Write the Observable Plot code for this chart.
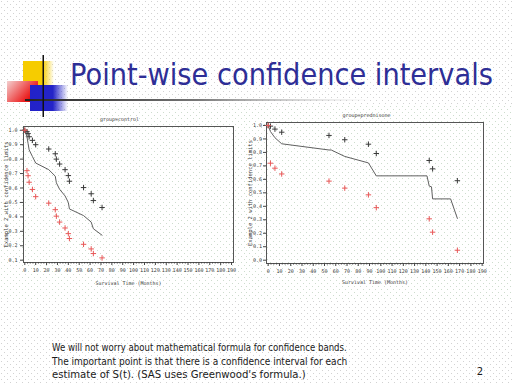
<!DOCTYPE html>
<html><head><meta charset="utf-8">
<script src="https://cdn.jsdelivr.net/npm/d3@7"></script>
<script src="https://cdn.jsdelivr.net/npm/@observablehq/plot@0.6"></script>
<style>
html,body{margin:0;padding:0;}
body{width:512px;height:384px;position:relative;overflow:hidden;background-color:#fff;
background-image:url("data:image/svg+xml,%3Csvg xmlns='http://www.w3.org/2000/svg' width='6' height='6'%3E%3Crect x='1' y='1' width='1' height='1' fill='%23d2d2d2'/%3E%3Crect x='4' y='4' width='1' height='1' fill='%23d2d2d2'/%3E%3C/svg%3E");}
.chart{position:absolute;background-color:#fff;
background-image:url("data:image/svg+xml,%3Csvg xmlns='http://www.w3.org/2000/svg' width='6' height='6'%3E%3Crect x='1' y='1' width='1' height='1' fill='%23cddccd'/%3E%3Crect x='4' y='4' width='1' height='1' fill='%23cddccd'/%3E%3C/svg%3E");}
.chart svg{display:block;}
#overlay{position:absolute;left:0;top:0;}
</style></head><body>
<div id="left" class="chart" style="left:0;top:105px;width:245px;height:195px"></div>
<div id="right" class="chart" style="left:245px;top:105px;width:267px;height:195px"></div>
<svg id="overlay" width="512" height="384">
  <defs>
    <linearGradient id="gY" x1="0" x2="1"><stop offset="0" stop-color="#f6cc00"/><stop offset="0.62" stop-color="#f6cc00"/><stop offset="1" stop-color="#f6cc00" stop-opacity="0"/></linearGradient>
    <linearGradient id="gR" x1="0" y1="0" x2="1" y2="0.6"><stop offset="0" stop-color="#f4d0d0"/><stop offset="0.75" stop-color="#ec3030"/><stop offset="1" stop-color="#e00000"/></linearGradient>
    <linearGradient id="gB" x1="0" x2="1"><stop offset="0" stop-color="#2222c8"/><stop offset="0.6" stop-color="#2424c8"/><stop offset="1" stop-color="#2424c8" stop-opacity="0"/></linearGradient>
    <linearGradient id="gL" x1="0" x2="1"><stop offset="0" stop-color="#222"/><stop offset="0.5" stop-color="#777"/><stop offset="1" stop-color="#bbb" stop-opacity="0"/></linearGradient>
  </defs>
  <rect x="23" y="61" width="31" height="30" fill="url(#gY)"/>
  <rect x="7" y="81" width="31" height="21" fill="url(#gR)"/>
  <rect x="30" y="85" width="38" height="26" fill="url(#gB)"/>
  <rect x="25" y="99" width="345" height="2" fill="url(#gL)"/>
  <rect x="42.5" y="55" width="1.5" height="62" fill="#111"/>
  <text class="fit" data-x="70" data-y="85" data-w="423" font-family="DejaVu Sans" font-size="30" fill="#2e2e96">Point-wise confidence intervals</text>
  <g font-family="DejaVu Sans" font-size="10.5" fill="#1a1a1a">
    <text class="fit" data-x="52" data-y="350.5" data-w="295">We will not worry about mathematical formula for confidence bands.</text>
    <text class="fit" data-x="52" data-y="364.5" data-w="296">The important point is that there is a confidence interval for each</text>
    <text class="fit" data-x="52" data-y="378" data-w="254">estimate of S(t). (SAS uses Greenwood's formula.)</text>
    <text x="480" y="375" text-anchor="middle" font-size="10">2</text>
  </g>
</svg>
<script>
// ---- data ----
const xTicks = [0,10,20,30,40,50,60,70,80,90,100,110,120,130,140,150,160,170,180,190];
const xLabel = "Survival Time (Months)";
const yLabel = "Example 2 with confidence limits";

// control group
const controlTitle = "group=control";
const controlTime  = [0, 2, 3, 4, 7, 10, 22, 28, 29, 32, 37, 40, 41, 54, 61, 63, 71];
const controlSurv  = [1.0, 0.955, 0.909, 0.864, 0.818, 0.773, 0.727, 0.682, 0.636, 0.591, 0.545, 0.500, 0.455, 0.409, 0.364, 0.318, 0.273];
const controlUpper = [1.0, 0.99, 0.977, 0.955, 0.93, 0.90, 0.87, 0.837, 0.80, 0.766, 0.727, 0.686, 0.647, 0.603, 0.56, 0.513, 0.465];
const controlLower = [1.0, 0.72, 0.685, 0.64, 0.59, 0.54, 0.495, 0.45, 0.405, 0.364, 0.323, 0.284, 0.25, 0.21, 0.178, 0.146, 0.116];
const controlYTicks = [0.1,0.2,0.3,0.4,0.5,0.6,0.7,0.8,0.9,1.0];

// prednisone group
const predTitle = "group=prednisone";
const predTime  = [0, 2, 6, 12, 54, 68, 89, 96, 143, 146, 168];
const predUpper = [1.0, 0.995, 0.973, 0.95, 0.926, 0.894, 0.861, 0.792, 0.74, 0.678, 0.59];
const predLower = [1.0, 0.72, 0.683, 0.64, 0.587, 0.535, 0.485, 0.39, 0.307, 0.208, 0.074];
const predLineTime = [0, 2, 6, 12, 54, 56, 68, 89, 96, 141, 143, 145, 146, 162, 168];
const predLineSurv = [1.0, 0.955, 0.909, 0.864, 0.818, 0.818, 0.770, 0.722, 0.626, 0.626, 0.55, 0.545, 0.455, 0.455, 0.31];
const predYTicks = [0.0,0.1,0.2,0.3,0.4,0.5,0.6,0.7,0.8,0.9,1.0];

const xMinor = d3.range(0, 190.1, 2.5).filter(v => v % 10 !== 0);

// fit slide texts horizontally to their widths in the reference
document.querySelectorAll("text.fit").forEach(el => {
  const w = el.getComputedTextLength();
  const s = (+el.dataset.w) / w;
  el.setAttribute("transform", `translate(${el.dataset.x},${el.dataset.y}) scale(${s},1)`);
});

function survChart(o) {
  const pts = o.time.map((t, i) => ({t, upper: o.upper[i], lower: o.lower[i]}));
  const curve = o.lineTime.map((t, i) => ({t, s: o.lineSurv[i]}));
  return Plot.plot({
    width: o.width, height: o.height,
    marginLeft: o.m[0], marginRight: o.m[1], marginTop: o.m[2], marginBottom: o.m[3],
    style: {background: "transparent", fontFamily: "'DejaVu Sans Mono', monospace", fontSize: "5px", color: "#3a3a3a", overflow: "visible"},
    x: {domain: o.xDomain},
    y: {domain: o.yDomain},
    marks: [
      Plot.frame({stroke: "#555", strokeWidth: 1}),
      Plot.axisX({ticks: xMinor, tickSize: 1.5, tickFormat: () => "", label: null, stroke: "#444"}),
      Plot.axisX({ticks: xTicks, tickSize: 3, tickPadding: 3, tickFormat: d => String(d), label: null, stroke: "#444"}),
      Plot.axisY({ticks: o.yTicks, tickSize: 3, tickPadding: o.yPad, tickFormat: d3.format(".1f"), label: null, stroke: "#444"}),
      Plot.text([xLabel], {text: d => d, frameAnchor: "bottom", dy: o.xLabelDy, textAnchor: "middle", lineAnchor: "middle"}),
      Plot.text([yLabel], {text: d => d, frameAnchor: "left", dx: o.yLabelDx, rotate: -90, textAnchor: "middle", lineAnchor: "middle", fontSize: 5.5}),
      Plot.text([o.title], {text: d => d, frameAnchor: "top", dy: o.titleDy, dx: o.titleDx, textAnchor: "middle", lineAnchor: "middle"}),
      Plot.line(curve, {x: "t", y: "s", stroke: "#606060", strokeWidth: 1}),
      Plot.dot(pts, {x: "t", y: "upper", symbol: "plus", r: 1.9, stroke: "#3a3a3a", strokeWidth: 1}),
      Plot.dot(pts, {x: "t", y: "lower", symbol: "plus", r: 1.9, stroke: "#e85858", strokeWidth: 1})
    ]
  });
}

document.getElementById("left").append(survChart({
  time: controlTime, upper: controlUpper, lower: controlLower,
  lineTime: controlTime, lineSurv: controlSurv, title: controlTitle, yTicks: controlYTicks,
  width: 245, height: 190, m: [23, 12, 21, 33],
  xDomain: [-1.2, 191.8], yDomain: [0.084, 1.026],
  yPad: 3, xLabelDy: 21.3, yLabelDx: -17.3, titleDy: -7.5, titleDx: -9
}));

document.getElementById("right").append(survChart({
  time: predTime, upper: predUpper, lower: predLower,
  lineTime: predLineTime, lineSurv: predLineSurv, title: predTitle, yTicks: predYTicks,
  width: 267, height: 190, m: [21, 29, 17, 32],
  xDomain: [-1.5, 191.2], yDomain: [-0.0245, 1.022],
  yPad: 1.5, xLabelDy: 19.3, yLabelDx: -16, titleDy: -7, titleDx: -8.5
}));
</script>
</body></html>
